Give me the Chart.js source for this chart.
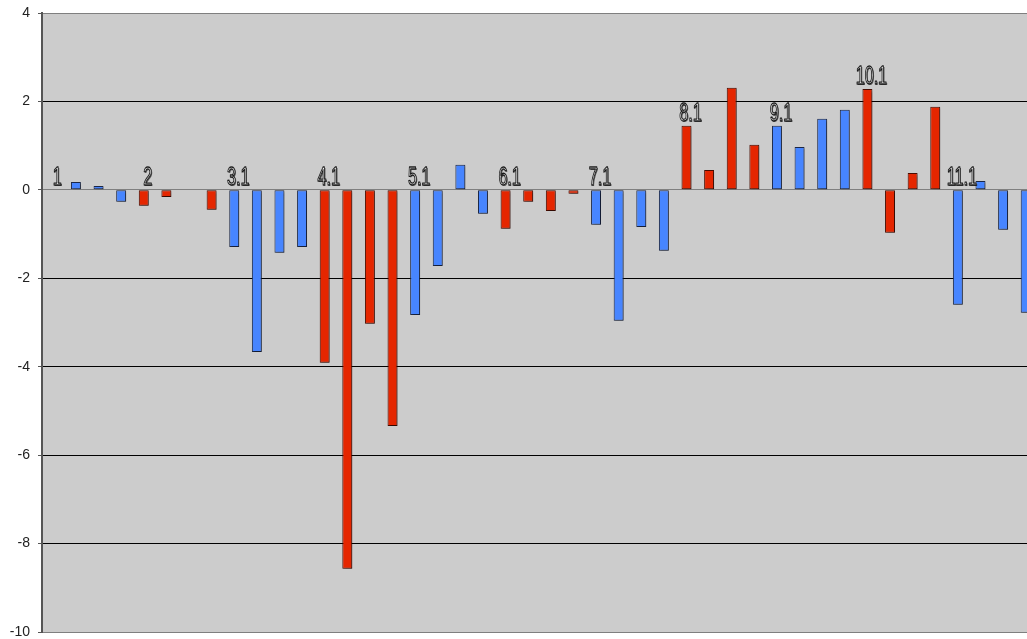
<!DOCTYPE html>
<html>
<head>
<meta charset="utf-8">
<script src="https://cdn.jsdelivr.net/npm/chart.js@4/dist/chart.umd.min.js"></script>
<style>
  html, body { margin: 0; padding: 0; background: #fff; overflow: hidden; }
  #wrap { width: 1040px; height: 639px; position: relative; }
</style>
</head>
<body>
<div id="wrap"><canvas id="barChart"></canvas></div>
<script>
// period markers, one slot per bar position (blank = no marker)
const categories = [
  "1", "", "", "", "2", "", "", "",
  "3.1", "", "", "", "4.1", "", "", "",
  "5.1", "", "", "", "6.1", "", "", "",
  "7.1", "", "", "", "8.1", "", "", "",
  "9.1", "", "", "", "10.1", "", "", "",
  "11.1", "", "", ""
];

const blueValues = [
  null, 0.18, 0.09, -0.27, null, null, null, null,
  -1.29, -3.67, -1.42, -1.29, null, null, null, null,
  -2.83, -1.72, 0.57, -0.54, null, null, null, null,
  -0.79, -2.96, -0.84, -1.38, null, null, null, null,
  1.45, 0.97, 1.61, 1.81, null, null, null, null,
  -2.6, 0.2, -0.9, -2.78
];

const redValues = [
  null, null, null, null, -0.36, -0.16, null, -0.45,
  null, null, null, null, -3.91, -8.57, -3.03, -5.34,
  null, null, null, null, -0.88, -0.27, -0.48, -0.09,
  null, null, null, null, 1.45, 0.45, 2.31, 1.02,
  null, null, null, null, 2.28, -0.97, 0.38, 1.88,
  null, null, null, null
];

const yTicks = [4, 2, 0, -2, -4, -6, -8, -10];

// grey plot background
const plotBg = {
  id: "plotBg",
  beforeDraw(chart) {
    const { ctx, chartArea: a } = chart;
    ctx.save();
    ctx.fillStyle = "#cccccc";
    ctx.fillRect(a.left, a.top, a.right - a.left, a.bottom - a.top);
    ctx.restore();
  }
};

// soft drop shadow under the bars
const barShadow = {
  id: "barShadow",
  beforeDatasetsDraw(chart) {
    const ctx = chart.ctx;
    ctx.save();
    ctx.shadowColor = "rgba(0,0,0,0.35)";
    ctx.shadowBlur = 2;
    ctx.shadowOffsetX = 1.5;
    ctx.shadowOffsetY = 1.5;
  },
  afterDatasetsDraw(chart) {
    chart.ctx.restore();
  }
};

// outlined period markers above each group
const periodLabels = {
  id: "periodLabels",
  afterDatasetsDraw(chart) {
    const { ctx, scales } = chart;
    ctx.save();
    ctx.font = "26px 'Liberation Sans', Arial, sans-serif";
    ctx.textAlign = "center";
    ctx.textBaseline = "alphabetic";
    ctx.lineJoin = "round";
    categories.forEach((txt, i) => {
      if (!txt) return;
      const top = Math.max(blueValues[i] ?? 0, redValues[i] ?? 0, 0);
      const x = scales.x.getPixelForValue(i) + 4;
      const y = scales.y.getPixelForValue(top) - 5;
      ctx.save();
      ctx.translate(x, y);
      ctx.scale(0.62, 1);
      ctx.shadowColor = "rgba(0,0,0,0.6)";
      ctx.shadowOffsetX = 1;
      ctx.shadowOffsetY = 1;
      ctx.fillStyle = "#f4f4f4";
      ctx.fillText(txt, 0, 0);
      ctx.shadowColor = "transparent";
      ctx.strokeStyle = "#1a1a1a";
      ctx.lineWidth = 1.3;
      ctx.strokeText(txt, 0, 0);
      ctx.restore();
    });
    ctx.restore();
  }
};

new Chart(document.getElementById("barChart"), {
  type: "bar",
  data: {
    labels: categories,
    datasets: [
      {
        label: "blue",
        data: blueValues,
        backgroundColor: "#4785ff",
        borderColor: "#1c2848",
        borderWidth: 1,
        borderSkipped: false
      },
      {
        label: "red",
        data: redValues,
        backgroundColor: "#e52600",
        borderColor: "#4a0c00",
        borderWidth: 1,
        borderSkipped: false
      }
    ]
  },
  options: {
    responsive: true,
    maintainAspectRatio: false,
    animation: false,
    layout: { padding: { top: 13, bottom: 7, left: 0, right: 3 } },
    datasets: {
      bar: { grouped: false, categoryPercentage: 1, barPercentage: 0.44 }
    },
    plugins: {
      legend: { display: false },
      tooltip: { enabled: false }
    },
    scales: {
      x: {
        display: false
      },
      y: {
        min: -10,
        max: 4,
        afterBuildTicks(scale) {
          scale.ticks = yTicks.map(v => ({ value: v }));
        },
        afterFit(scale) {
          scale.width = 42;
          scale.paddingTop = 0;
          scale.paddingBottom = 0;
        },
        ticks: {
          color: "#222",
          padding: 8,
          font: { family: "'Liberation Sans', Arial, sans-serif", size: 14 }
        },
        grid: {
          tickLength: 4,
          tickColor: "#555",
          color: ctx => {
            const v = ctx.tick ? ctx.tick.value : null;
            if (v === 0 || v === 4 || v === -10) return "#7f7f7f";
            return "#000";
          },
          lineWidth: 1
        },
        border: { color: "#555", width: 2 }
      }
    }
  },
  plugins: [plotBg, barShadow, periodLabels]
});
</script>
</body>
</html>
